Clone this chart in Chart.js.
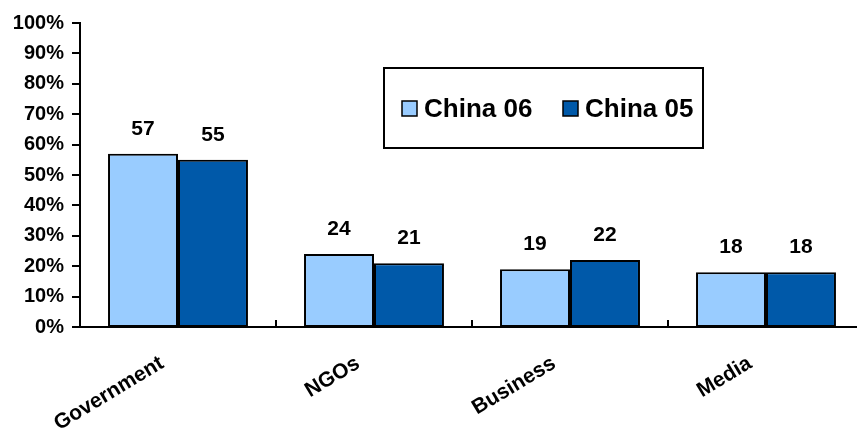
<!DOCTYPE html>
<html>
<head>
<meta charset="utf-8">
<script src="https://cdn.jsdelivr.net/npm/chart.js"></script>
<style>
  html, body { margin: 0; padding: 0; background: #fff; overflow: hidden; }
  #wrap { width: 870px; height: 433px; }
</style>
</head>
<body>
<div id="wrap"><canvas id="chart"></canvas></div>
<script>
  // Chart values
  const categories = ['Government', 'NGOs', 'Business', 'Media'];
  const seriesNames = ['China 06', 'China 05'];
  const china06 = [57, 24, 19, 18];
  const china05 = [55, 21, 22, 18];
  const yTicks = [0, 10, 20, 30, 40, 50, 60, 70, 80, 90, 100];

  const lightBlue = '#99CCFF';
  const darkBlue = '#0059A9';
  const fontFamily = 'Arial, "Liberation Sans", sans-serif';

  // Value labels above every bar
  const valueLabels = {
    id: 'valueLabels',
    afterDatasetsDraw(chart) {
      const ctx = chart.ctx;
      ctx.save();
      ctx.font = 'bold 21px ' + fontFamily;
      ctx.fillStyle = '#000';
      ctx.textAlign = 'center';
      ctx.textBaseline = 'alphabetic';
      chart.data.datasets.forEach((ds, i) => {
        chart.getDatasetMeta(i).data.forEach((bar, j) => {
          ctx.fillText(String(ds.data[j]), bar.x, bar.y - 19);
        });
      });
      ctx.restore();
    }
  };

  // Axis tick marks: outside ticks on y, small upward ticks between categories on x
  const axisTicks = {
    id: 'axisTicks',
    afterDraw(chart) {
      const x = chart.scales.x;
      const y = chart.scales.y;
      const ctx = chart.ctx;
      ctx.save();
      ctx.strokeStyle = '#000';
      ctx.lineWidth = 2;
      for (let i = 1; i < categories.length; i++) {
        const px = Math.round((x.getPixelForValue(i - 1) + x.getPixelForValue(i)) / 2);
        ctx.beginPath();
        ctx.moveTo(px, x.top);
        ctx.lineTo(px, x.top - 7);
        ctx.stroke();
      }
      yTicks.forEach(v => {
        const py = Math.round(y.getPixelForValue(v));
        ctx.beginPath();
        ctx.moveTo(y.right - 8, py);
        ctx.lineTo(y.right, py);
        ctx.stroke();
      });
      ctx.restore();
    }
  };

  // Boxed legend inside the plot
  const boxLegend = {
    id: 'boxLegend',
    afterDraw(chart) {
      const ctx = chart.ctx;
      const a = chart.chartArea;
      const left = a.left + 304, top = a.top + 45, w = 319, h = 80;
      ctx.save();
      ctx.fillStyle = '#fff';
      ctx.fillRect(left, top, w, h);
      ctx.strokeStyle = '#000';
      ctx.lineWidth = 2;
      ctx.strokeRect(left, top, w, h);
      ctx.font = 'bold 26px ' + fontFamily;
      ctx.textBaseline = 'alphabetic';
      ctx.textAlign = 'left';
      const itemX = [left + 18, left + 179];
      chart.data.datasets.forEach((ds, i) => {
        const bx = itemX[i];
        const by = top + 33;
        ctx.fillStyle = ds.backgroundColor;
        ctx.fillRect(bx, by, 15, 15);
        ctx.lineWidth = 1.5;
        ctx.strokeRect(bx, by, 15, 15);
        ctx.fillStyle = '#000';
        ctx.fillText(ds.label, bx + 22, top + 49);
      });
      ctx.restore();
    }
  };

  new Chart(document.getElementById('chart'), {
    type: 'bar',
    data: {
      labels: categories,
      datasets: [
        {
          label: seriesNames[0],
          data: china06,
          backgroundColor: lightBlue,
          borderColor: '#000',
          borderWidth: 2,
          borderSkipped: false
        },
        {
          label: seriesNames[1],
          data: china05,
          backgroundColor: darkBlue,
          borderColor: '#000',
          borderWidth: 2,
          borderSkipped: false
        }
      ]
    },
    options: {
      responsive: true,
      maintainAspectRatio: false,
      animation: false,
      layout: { padding: { top: 23, right: 6, left: 0, bottom: 0 } },
      datasets: { bar: { categoryPercentage: 0.714, barPercentage: 1.0 } },
      plugins: {
        legend: { display: false },
        tooltip: { enabled: false }
      },
      scales: {
        x: {
          grid: { display: false },
          border: { display: true, color: '#000', width: 2 },
          ticks: {
            color: '#000',
            font: { family: fontFamily, size: 21, weight: 'bold' },
            minRotation: 31,
            maxRotation: 31,
            padding: 16,
            labelOffset: -16
          },
          afterFit(scale) { scale.height = 106; }
        },
        y: {
          min: 0,
          max: 100,
          afterBuildTicks(scale) { scale.ticks = yTicks.map(v => ({ value: v })); },
          grid: { display: false },
          border: { display: true, color: '#000', width: 2 },
          ticks: {
            color: '#000',
            padding: 8,
            font: { family: fontFamily, size: 20, weight: 'bold' },
            callback: v => v + '%'
          },
          afterFit(scale) { scale.width = 80; }
        }
      }
    },
    plugins: [valueLabels, axisTicks, boxLegend]
  });
</script>
</body>
</html>
